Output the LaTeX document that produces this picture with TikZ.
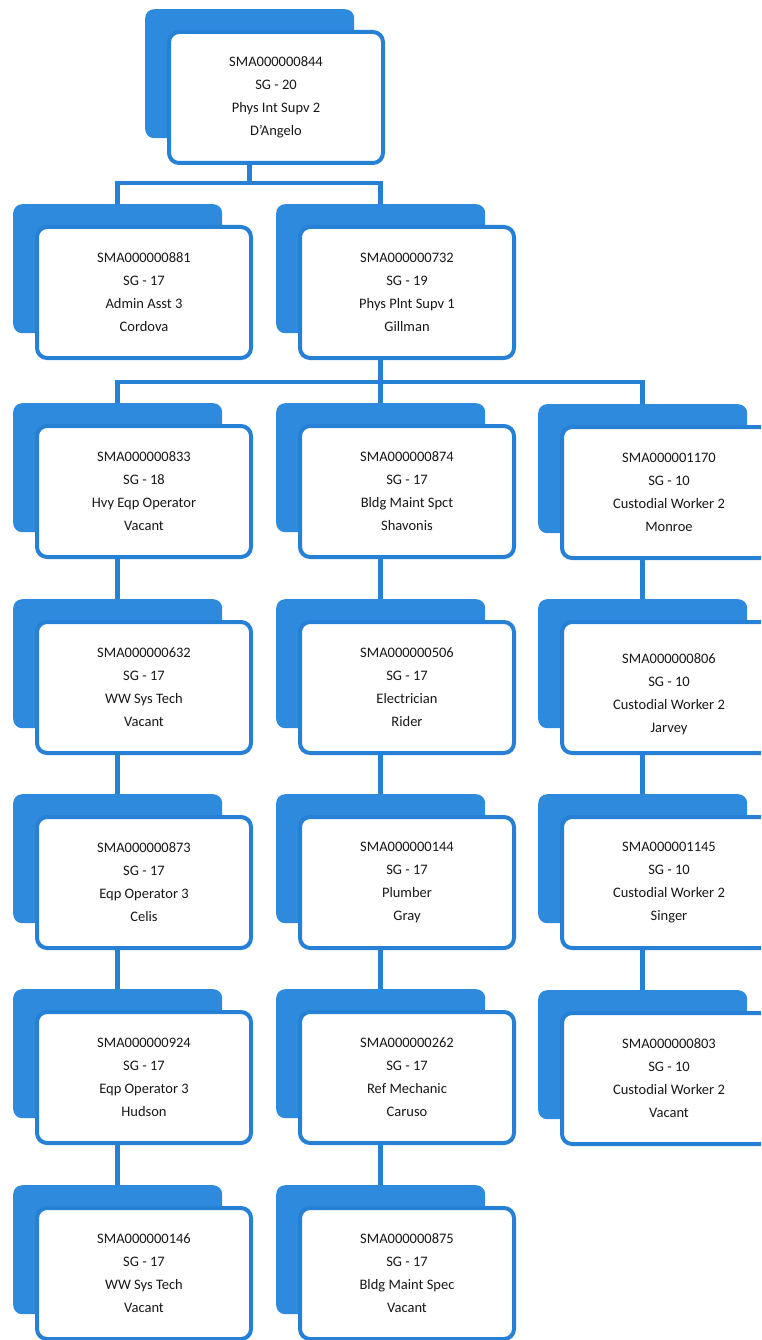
\documentclass[tikz,border=0pt]{standalone}
\usepackage{fontspec}
\setmainfont{Carlito}
\usetikzlibrary{calc}

\definecolor{cardblue}{RGB}{46,138,221}
\definecolor{edgeblue}{RGB}{38,129,214}
\definecolor{ink}{RGB}{24,24,24}

\tikzset{
  backcard/.style={anchor=north west, fill=cardblue, rounded corners=9pt,
    minimum width=209pt, minimum height=129pt, inner sep=0pt},
  frontcard/.style={anchor=north west, draw=edgeblue, line width=4pt,
    fill=white, rounded corners=10pt, minimum width=214pt,
    minimum height=131pt, inner sep=2pt, align=center, text=ink,
    font=\fontsize{14.5}{23}\selectfont},
  link/.style={draw=edgeblue, line width=4.5pt},
}

% one position card: blue backing card plus white front card
% #1 name, #2 left, #3 top (front card), #4 text
\newcommand{\orgcard}[4]{%
  \node[backcard] (b#1) at (#2-20,#3-19) {};
  \node[frontcard] (f#1) at (#2+2,#3+2) {#4};
}

\begin{document}
\begin{tikzpicture}[x=1pt,y=-1pt]
\useasboundingbox (0,0) rectangle (761,1340);
\clip (0,0) rectangle (761,1340);

% top
\orgcard{0}{165}{28}{SMA000000844\\SG - 20\\Phys Int Supv 2\\D'Angelo}

% second level
\orgcard{a}{33}{223}{SMA000000881\\SG - 17\\Admin Asst 3\\Cordova}
\orgcard{g}{296}{223}{SMA000000732\\SG - 19\\Phys Plnt Supv 1\\Gillman}

% left column
\orgcard{L3}{33}{422}{SMA000000833\\SG - 18\\Hvy Eqp Operator\\Vacant}
\orgcard{L4}{33}{618}{SMA000000632\\SG - 17\\WW Sys Tech\\Vacant}
\orgcard{L5}{33}{813}{SMA000000873\\SG - 17\\Eqp Operator 3\\Celis}
\orgcard{L6}{33}{1008}{SMA000000924\\SG - 17\\Eqp Operator 3\\Hudson}
\orgcard{L7}{33}{1204}{SMA000000146\\SG - 17\\WW Sys Tech\\Vacant}

% middle column
\orgcard{M3}{296}{422}{SMA000000874\\SG - 17\\Bldg Maint Spct\\Shavonis}
\orgcard{M4}{296}{618}{SMA000000506\\SG - 17\\Electrician\\Rider}
\orgcard{M5}{296}{813}{SMA000000144\\SG - 17\\Plumber\\Gray}
\orgcard{M6}{296}{1008}{SMA000000262\\SG - 17\\Ref Mechanic\\Caruso}
\orgcard{M7}{296}{1204}{SMA000000875\\SG - 17\\Bldg Maint Spec\\Vacant}

% right column
\orgcard{R3}{558}{423}{SMA000001170\\SG - 10\\Custodial Worker 2\\Monroe}
\orgcard{R4}{558}{618}{\mbox{}\\SMA000000806\\SG - 10\\Custodial Worker 2\\Jarvey}
\orgcard{R5}{558}{813}{SMA000001145\\SG - 10\\Custodial Worker 2\\Singer}
\orgcard{R6}{558}{1009}{SMA000000803\\SG - 10\\Custodial Worker 2\\Vacant}

% connectors: top to second level
\path (f0.south -| b0.north) ++(0,18) coordinate (j0);
\draw[link] (f0.south -| b0.north) -- (j0);
\draw[link] (ba.north) |- (j0) -| (bg.north);

% connectors: Gillman to the three columns
\path (fg.south -| bg.north) ++(0,22) coordinate (j1);
\draw[link] (fg.south -| bg.north) -- (j1);
\draw[link] (bL3.north) |- (j1) -| (bR3.north);
\draw[link] (j1) -- (bM3.north);

% column chains
\foreach \c in {L,M} {
  \foreach \r [evaluate=\r as \n using int(\r+1)] in {3,4,5,6} {
    \draw[link] (f\c\r.south -| b\c\r.north) -- (b\c\n.north);
  }
}
\foreach \r [evaluate=\r as \n using int(\r+1)] in {3,4,5} {
  \draw[link] (fR\r.south -| bR\r.north) -- (bR\n.north);
}
\end{tikzpicture}
\end{document}
